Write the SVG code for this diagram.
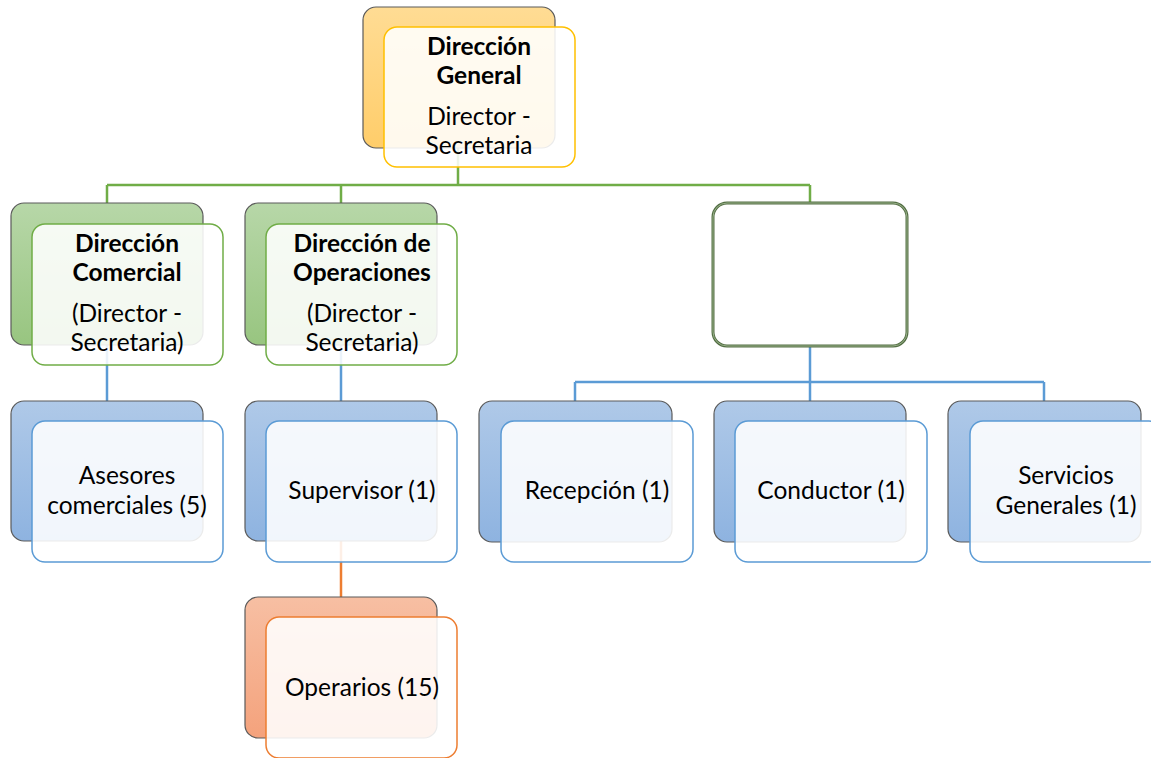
<svg xmlns="http://www.w3.org/2000/svg" width="1151" height="758" viewBox="0 0 1151 758">
<defs>
<linearGradient id="gY" x1="0" y1="0" x2="0" y2="1"><stop offset="0" stop-color="#ffdc94"/><stop offset="1" stop-color="#ffcd6a"/></linearGradient>
<linearGradient id="gG" x1="0" y1="0" x2="0" y2="1"><stop offset="0" stop-color="#b7d7a8"/><stop offset="1" stop-color="#98c580"/></linearGradient>
<linearGradient id="gB" x1="0" y1="0" x2="0" y2="1"><stop offset="0" stop-color="#afc9e8"/><stop offset="1" stop-color="#8eb3e0"/></linearGradient>
<linearGradient id="gO" x1="0" y1="0" x2="0" y2="1"><stop offset="0" stop-color="#f7bfa3"/><stop offset="1" stop-color="#f4a27c"/></linearGradient>
<style>
.back{stroke:#5a5a5a;stroke-width:1.2}
.front{fill:#ffffff;fill-opacity:0.88;stroke-width:1.5}
.fy{stroke:#ffc000}.fg{stroke:#70ad47}.fb{stroke:#5b9bd5}.fo{stroke:#ed7d31}
.cg{stroke:#70ad47;stroke-width:2.5;fill:none}
.cb{stroke:#5b9bd5;stroke-width:2.5;fill:none}
.co{stroke:#ed7d31;stroke-width:2.5;fill:none}
text{font-family:Lato,"Liberation Sans",sans-serif;font-size:24.5px;fill:#000;text-anchor:middle}
.b{font-weight:bold}
</style>
</defs>
<g id="connectors">
<path class="cg" d="M458 148V185M107 185H810M107 185V203M341 185V203M810 185V203"/>
<path class="cb" d="M107 345V401M341 345V401"/>
<path class="cb" d="M810 346V382M575 382H1044M575 382V401M810 382V401M1044 382V401"/>
<path class="co" d="M341 541V597"/>
</g>
<g id="n-general">
<rect class="back" x="363" y="7" width="192" height="141" rx="13" fill="url(#gY)"/>
<rect class="front fy" x="384" y="27" width="191" height="140" rx="13"/>
<text class="b" x="479" y="55">Dirección</text>
<text class="b" x="479" y="84">General</text>
<text x="479" y="125">Director -</text>
<text x="479" y="154">Secretaria</text>
</g>
<g id="n-comercial">
<rect class="back" x="11" y="203" width="192" height="142" rx="13" fill="url(#gG)"/>
<rect class="front fg" x="32" y="224" width="191" height="141" rx="13"/>
<text class="b" x="127" y="252">Dirección</text>
<text class="b" x="127" y="281">Comercial</text>
<text x="127" y="322">(Director -</text>
<text x="127" y="351">Secretaria)</text>
</g>
<g id="n-operaciones">
<rect class="back" x="245" y="203" width="192" height="142" rx="13" fill="url(#gG)"/>
<rect class="front fg" x="266" y="224" width="191" height="141" rx="13"/>
<text class="b" x="362" y="252">Dirección de</text>
<text class="b" x="362" y="281">Operaciones</text>
<text x="362" y="322">(Director -</text>
<text x="362" y="351">Secretaria)</text>
</g>
<g id="n-empty">
<rect x="713" y="203" width="194" height="143" rx="14" fill="#ffffff" stroke="#546f45" stroke-width="3"/>
<rect x="713" y="203" width="194" height="143" rx="14" fill="none" stroke="#a9c29b" stroke-width="0.8"/>
</g>
<g id="n-asesores">
<rect class="back" x="11" y="401" width="192" height="140" rx="13" fill="url(#gB)"/>
<rect class="front fb" x="32" y="421" width="191" height="141" rx="13"/>
<text x="127" y="484">Asesores</text>
<text x="127" y="514">comerciales (5)</text>
</g>
<g id="n-supervisor">
<rect class="back" x="245" y="401" width="192" height="140" rx="13" fill="url(#gB)"/>
<rect class="front fb" x="266" y="421" width="191" height="141" rx="13"/>
<text x="362" y="499">Supervisor (1)</text>
</g>
<g id="n-recepcion">
<rect class="back" x="479" y="401" width="193" height="141" rx="13" fill="url(#gB)"/>
<rect class="front fb" x="501" y="421" width="192" height="141" rx="13"/>
<text x="597" y="499">Recepción (1)</text>
</g>
<g id="n-conductor">
<rect class="back" x="714" y="401" width="192" height="141" rx="13" fill="url(#gB)"/>
<rect class="front fb" x="735" y="421" width="192" height="141" rx="13"/>
<text x="831" y="499">Conductor (1)</text>
</g>
<g id="n-servicios">
<rect class="back" x="948" y="401" width="193" height="141" rx="13" fill="url(#gB)"/>
<rect class="front fb" x="970" y="421" width="192" height="141" rx="13"/>
<text x="1066" y="484">Servicios</text>
<text x="1066" y="514">Generales (1)</text>
</g>
<g id="n-operarios">
<rect class="back" x="245" y="597" width="192" height="141" rx="13" fill="url(#gO)"/>
<rect class="front fo" x="266" y="617" width="191" height="141" rx="13"/>
<text x="362" y="696">Operarios (15)</text>
</g>
</svg>
